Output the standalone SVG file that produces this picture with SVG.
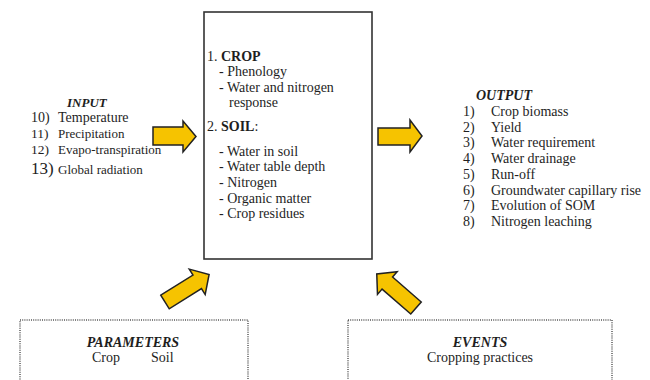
<svg xmlns="http://www.w3.org/2000/svg" width="650" height="380" viewBox="0 0 650 380" font-family="'Liberation Serif', 'DejaVu Serif', serif">
<style>
text{font-family:'Liberation Serif','DejaVu Serif',serif;fill:#1e1e1e;font-size:14px}
.bi{font-weight:bold;font-style:italic}
.b{font-weight:bold}
.arrow{fill:#F6C300;stroke:#222;stroke-width:1.5;stroke-linejoin:miter}
.dot{fill:none;stroke:#555;stroke-width:1.5;stroke-dasharray:1 1.2}
.mid{text-anchor:middle}
</style>
<defs>
<path id="darrow" d="M0,-8 H38 V-15 L52,0 L38,15 V8 H0 Z"/>
</defs>
<g id="input">
<text class="bi" x="67" y="107" style="font-size:13px">INPUT</text>
<text x="31" y="122">10)</text><text x="58" y="122">Temperature</text>
<text x="31" y="138" style="font-size:13.5px">11)</text><text x="58" y="138" style="font-size:13px">Precipitation</text>
<text x="31" y="154" style="font-size:13.5px">12)</text><text x="58" y="154" style="font-size:13px">Evapo-transpiration</text>
<text x="31" y="174" style="font-size:17px">13)</text><text x="58" y="174" style="font-size:13px">Global radiation</text>
</g>
<g id="model">
<rect x="204" y="12" width="168" height="247" fill="#fff" stroke="#333" stroke-width="1.6"/>
<text x="207" y="61">1. <tspan class="b">CROP</tspan></text>
<text x="219" y="76">- Phenology</text>
<text x="219" y="92">- Water and nitrogen</text>
<text x="229" y="107">response</text>
<text x="207" y="131">2. <tspan class="b">SOIL</tspan>:</text>
<text x="219" y="156">- Water in soil</text>
<text x="219" y="171">- Water table depth</text>
<text x="219" y="187">- Nitrogen</text>
<text x="219" y="203">- Organic matter</text>
<text x="219" y="218">- Crop residues</text>
</g>
<g id="output">
<text class="bi" x="476" y="100">OUTPUT</text>
<text x="463" y="116">1)</text><text x="491" y="116">Crop biomass</text>
<text x="463" y="131.7">2)</text><text x="491" y="131.7">Yield</text>
<text x="463" y="147.4">3)</text><text x="491" y="147.4">Water requirement</text>
<text x="463" y="163.1">4)</text><text x="491" y="163.1">Water drainage</text>
<text x="463" y="178.8">5)</text><text x="491" y="178.8">Run-off</text>
<text x="463" y="194.5">6)</text><text x="491" y="194.5">Groundwater capillary rise</text>
<text x="463" y="210.2">7)</text><text x="491" y="210.2">Evolution of SOM</text>
<text x="463" y="225.9">8)</text><text x="491" y="225.9">Nitrogen leaching</text>
</g>
<g id="parameters">
<rect class="dot" x="20" y="320" width="228" height="80"/>
<text class="bi mid" x="133" y="347">PARAMETERS</text>
<text x="92" y="362">Crop</text>
<text x="151" y="362">Soil</text>
</g>
<g id="events">
<rect class="dot" x="348" y="320" width="264" height="80"/>
<text class="bi mid" x="480" y="347">EVENTS</text>
<text class="mid" x="480" y="362">Cropping practices</text>
</g>
<g id="connectors">
<path class="arrow" d="M153,127 H183 V121 L196,136.5 L183,152 V145 H153 Z"/>
<path class="arrow" d="M378,128 H410 V120 L422,136 L410,152 V145 H378 Z"/>
<use href="#darrow" class="arrow" transform="translate(165,302) rotate(-32)"/>
<use href="#darrow" class="arrow" transform="translate(416,308) rotate(-139)"/>
</g>
</svg>
